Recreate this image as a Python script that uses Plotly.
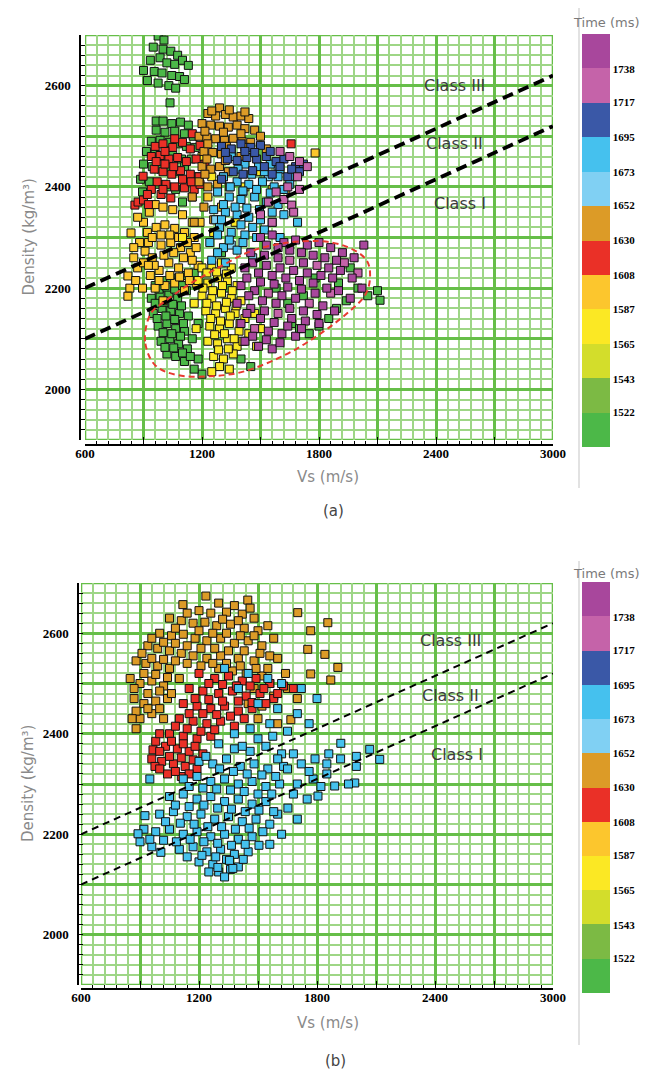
import numpy as np
import plotly.graph_objects as go

W, H = 649, 1069

# ---------------- data ----------------
# colour scale (Time, ms): 12 bands, edges and printed labels
time_edges = [1500, 1522, 1543, 1565, 1587, 1608, 1630, 1652, 1673, 1695, 1717, 1738, 1760]
time_labels = ["1522", "1543", "1565", "1587", "1608", "1630", "1652", "1673", "1695", "1717", "1738"]
band_colors = ['#4cb848', '#7cba44', '#d3dd2b', '#fbe824', '#fcc62d', '#ea3027',
               '#dc9b27', '#80d0f3', '#45c1ee', '#3a58a7', '#c563a9', '#a8479c']

x_ticks = [600, 900, 1200, 1500, 1800, 2100, 2400, 2700, 3000]
x_tick_text = ["600", "", "1200", "", "1800", "", "2400", "", "3000"]
y_ticks = [1900, 2000, 2100, 2200, 2300, 2400, 2500, 2600, 2700]
y_tick_text = ["", "2000", "", "2200", "", "2400", "", "2600", ""]

# AVO class boundaries (Vs, density)
boundary_vs = [600, 3000]
class_iii_ii_rho = [2200, 2620]
class_ii_i_rho = [2100, 2520]
class_names = ["Class III", "Class II", "Class I"]

# ---- panel (a): (Vs, density) samples per time band ----
a_green_top = [(975, 2698), (1005, 2690), (950, 2676), (1000, 2672), (1040, 2668), (1075, 2660), (935, 2650),
               (985, 2655), (1020, 2645), (1060, 2642), (1100, 2650), (1130, 2640), (900, 2630), (955, 2628),
               (995, 2625), (1045, 2620), (1085, 2618), (920, 2610), (975, 2605), (1030, 2600), (1065, 2595),
               (1110, 2612), (1036, 2566), (965, 2530)]
a_green_upper = [(1000, 2530), (1045, 2525), (1090, 2528), (1130, 2522), (965, 2512), (1010, 2508), (1060, 2510),
                 (1110, 2505), (1155, 2500), (940, 2490), (985, 2492), (1030, 2488), (1075, 2485), (1120, 2480),
                 (1165, 2478), (915, 2470), (960, 2465), (1005, 2460), (1050, 2462), (1095, 2455), (900, 2445),
                 (945, 2440), (990, 2435), (1040, 2438), (1080, 2430), (885, 2415), (930, 2410), (975, 2405),
                 (1020, 2400), (1065, 2395), (895, 2390), (1110, 2440), (1145, 2455), (1170, 2420), (1150, 2380),
                 (1100, 2370)]
a_green_lower = [(960, 2205), (1000, 2215), (1040, 2220), (1080, 2210), (1120, 2225), (1160, 2230), (940, 2180),
                 (985, 2185), (1030, 2190), (1075, 2180), (1120, 2195), (950, 2150), (995, 2160), (1040, 2155),
                 (1085, 2150), (1130, 2145), (975, 2125), (1020, 2130), (1065, 2120), (1110, 2115), (1150, 2100),
                 (990, 2095), (1035, 2100), (1080, 2090), (1125, 2080), (1020, 2070), (1065, 2065), (1110, 2055),
                 (1180, 2060), (1200, 2030), (1160, 2040), (1300, 2270), (1330, 2200), (1180, 2130), (1400, 2060),
                 (1450, 2045), (1660, 2130), (1700, 2120), (1750, 2110), (1800, 2125), (1850, 2140), (1890, 2160),
                 (1940, 2175), (2000, 2200), (2050, 2185), (2100, 2195), (2113, 2176), (1960, 2240), (1900, 2210),
                 (1780, 2220), (1720, 2185), (1640, 2170), (1580, 2200), (980, 2198), (1020, 2202), (1060, 2198),
                 (1100, 2205), (960, 2170), (1005, 2172), (1050, 2168), (1095, 2165), (970, 2140), (1015, 2145),
                 (1060, 2138), (1105, 2130), (1000, 2112), (1045, 2110), (1090, 2105), (1010, 2083), (1055, 2082),
                 (1100, 2072), (1140, 2065)]
a_golden = [(836, 2309), (820, 2224), (830, 2200), (820, 2184), (850, 2260), (870, 2240), (880, 2290), (908, 2273),
            (900, 2330), (930, 2350), (960, 2365), (1000, 2360), (1050, 2355), (1100, 2345), (920, 2310), (965, 2320),
            (1010, 2325), (1060, 2318), (1110, 2310), (1160, 2300), (900, 2250), (945, 2260), (990, 2285), (1040, 2290),
            (1090, 2280), (1140, 2270), (935, 2225), (980, 2235), (1030, 2250), (1080, 2240), (1130, 2230), (1180, 2245),
            (960, 2200), (1010, 2205), (1060, 2210), (1110, 2195), (1170, 2210), (1000, 2175), (870, 2340), (1190, 2330),
            (1230, 2380), (1300, 2360), (1340, 2400), (1780, 2467), (1630, 2395), (850, 2280), (860, 2215), (895, 2200),
            (925, 2290), (945, 2300), (990, 2305), (1035, 2305), (1080, 2300), (1125, 2290), (1170, 2280), (955, 2245),
            (1005, 2265), (1055, 2270), (1105, 2260), (1150, 2255), (925, 2245), (980, 2215), (1035, 2225),
            (1085, 2222), (1135, 2215)]
a_yellow = [(1200, 2240), (1250, 2245), (1300, 2250), (1350, 2240), (1180, 2215), (1230, 2210), (1280, 2220),
            (1330, 2215), (1380, 2205), (1200, 2185), (1250, 2180), (1300, 2190), (1350, 2180), (1400, 2175),
            (1220, 2155), (1270, 2150), (1320, 2160), (1370, 2150), (1420, 2140), (1240, 2125), (1290, 2120),
            (1340, 2130), (1390, 2115), (1440, 2110), (1230, 2095), (1280, 2090), (1330, 2100), (1380, 2085),
            (1260, 2065), (1310, 2060), (1360, 2070), (1290, 2045), (1340, 2040), (1250, 2035), (1470, 2150),
            (1500, 2120), (1480, 2085), (1160, 2170), (1170, 2120), (1150, 2330), (1260, 2310), (1370, 2330),
            (1420, 2400), (1500, 2430), (1560, 2395), (1250, 2420), (1200, 2460), (1100, 2300), (1225, 2230),
            (1275, 2232), (1325, 2228), (1205, 2200), (1255, 2195), (1305, 2205), (1355, 2195), (1225, 2170),
            (1275, 2165), (1325, 2172), (1375, 2165), (1245, 2140), (1295, 2135), (1345, 2145), (1395, 2130),
            (1265, 2108), (1315, 2110), (1365, 2100), (1410, 2095), (1285, 2078), (1335, 2080)]
a_red = [(960, 2480), (1000, 2485), (1050, 2478), (1100, 2488), (1140, 2475), (1190, 2482), (940, 2460), (985, 2462),
         (1030, 2455), (1075, 2458), (1120, 2450), (1170, 2455), (1215, 2445), (955, 2435), (1000, 2430), (1045, 2425),
         (1090, 2432), (1140, 2425), (1185, 2420), (970, 2410), (1015, 2405), (1060, 2400), (1110, 2398), (1160, 2395),
         (898, 2421), (856, 2364), (872, 2370), (900, 2374), (925, 2365), (990, 2385), (1040, 2378), (1657, 2485),
         (965, 2450), (1010, 2445), (1055, 2440), (1100, 2415), (1145, 2410), (1190, 2405), (1010, 2470),
         (1060, 2495), (1150, 2505), (1000, 2395), (940, 2395), (920, 2385)]
a_orange = [(1290, 2556), (1230, 2545), (1270, 2540), (1320, 2543), (1360, 2538), (1400, 2540), (1440, 2535),
            (1200, 2525), (1245, 2522), (1290, 2520), (1335, 2518), (1380, 2522), (1420, 2515), (1470, 2512),
            (1185, 2500), (1225, 2498), (1270, 2495), (1315, 2492), (1360, 2496), (1405, 2490), (1450, 2488),
            (1210, 2470), (1255, 2468), (1300, 2465), (1350, 2470), (1400, 2460), (1200, 2440), (1245, 2435),
            (1290, 2440), (1335, 2430), (1185, 2410), (1230, 2400), (1280, 2405), (1150, 2380), (1210, 2360),
            (1260, 2335), (1160, 2330), (1500, 2500), (1530, 2475), (1250, 2550), (1340, 2552), (1420, 2548),
            (1215, 2510), (1310, 2508), (1400, 2505), (1230, 2485), (1325, 2480), (1420, 2478), (1225, 2455),
            (1320, 2452), (1215, 2425), (1310, 2420)]
a_sky = [(1270, 2335), (1410, 2390), (1460, 2260), (1540, 2420), (1350, 2285), (1590, 2440)]
a_cyan = [(1350, 2460), (1420, 2445), (1490, 2440), (1550, 2445), (1600, 2435), (1660, 2420), (1310, 2420),
          (1380, 2410), (1440, 2405), (1510, 2410), (1570, 2400), (1620, 2395), (1280, 2390), (1340, 2380),
          (1400, 2375), (1470, 2380), (1530, 2370), (1590, 2365), (1260, 2355), (1320, 2350), (1380, 2345),
          (1440, 2340), (1500, 2335), (1560, 2330), (1620, 2345), (1290, 2320), (1350, 2310), (1420, 2305),
          (1480, 2300), (1240, 2290), (1310, 2280), (1380, 2275), (1250, 2255), (1320, 2250), (1690, 2330),
          (1600, 2300), (1385, 2435), (1455, 2425), (1520, 2430), (1590, 2420), (1650, 2405), (1345, 2400),
          (1410, 2392), (1480, 2395), (1550, 2388), (1310, 2365), (1370, 2360), (1430, 2358), (1495, 2355),
          (1560, 2350), (1300, 2335), (1400, 2325), (1460, 2320), (1520, 2315), (1280, 2305), (1340, 2295),
          (1410, 2290), (1280, 2270)]
a_blue = [(1300, 2480), (1350, 2475), (1400, 2485), (1450, 2478), (1500, 2482), (1330, 2455), (1380, 2452),
          (1430, 2458), (1480, 2455), (1530, 2460), (1580, 2450), (1620, 2455), (1680, 2440), (1720, 2445),
          (1360, 2430), (1410, 2425), (1460, 2432), (1560, 2425), (1640, 2420), (1700, 2430), (1300, 2415),
          (1320, 2468), (1420, 2470), (1470, 2468), (1550, 2470), (1600, 2440), (1660, 2435), (1520, 2440)]
a_pink = [(1600, 2470), (1650, 2460), (1700, 2450), (1740, 2440), (1690, 2420), (1640, 2400), (1700, 2395),
          (1580, 2390), (1540, 2370), (1620, 2375), (1660, 2364), (1670, 2350), (1500, 2345), (1560, 2330),
          (1650, 2255), (1790, 2245), (1540, 2190), (1750, 2170), (1590, 2150), (1470, 2120), (1930, 2250),
          (2000, 2230), (1860, 2190)]
a_purple = [(1500, 2300), (1560, 2305), (1620, 2290), (1680, 2295), (1740, 2285), (1800, 2290), (1860, 2280),
            (1920, 2270), (1980, 2260), (2030, 2285), (1450, 2270), (1520, 2265), (1590, 2260), (1720, 2250),
            (1850, 2240), (1910, 2235), (1970, 2220), (2020, 2200), (1420, 2240), (1490, 2230), (1560, 2225),
            (1630, 2220), (1700, 2215), (1770, 2210), (1840, 2200), (1900, 2195), (1960, 2180), (1400, 2205),
            (1470, 2195), (1610, 2185), (1680, 2180), (1820, 2165), (1880, 2155), (1380, 2170), (1450, 2160),
            (1520, 2155), (1660, 2140), (1730, 2135), (1800, 2130), (1400, 2130), (1540, 2115), (1610, 2110),
            (1680, 2105), (1420, 2095), (1490, 2085), (1560, 2080), (1530, 2285), (1590, 2280), (1650, 2275),
            (1710, 2270), (1770, 2265), (1830, 2260), (1890, 2255), (1460, 2250), (1530, 2245), (1600, 2240),
            (1670, 2235), (1740, 2230), (1810, 2225), (1870, 2220), (1430, 2220), (1500, 2212), (1570, 2208),
            (1640, 2202), (1710, 2198), (1780, 2190), (1440, 2185), (1510, 2175), (1580, 2170), (1650, 2160),
            (1720, 2155), (1790, 2148), (1430, 2150), (1500, 2140), (1570, 2132), (1640, 2125), (1710, 2120),
            (1460, 2105), (1530, 2098), (1600, 2092)]

# ---- panel (b) ----
b_orange = [(1235, 2674), (1448, 2666), (1118, 2657), (1300, 2660), (1380, 2655), (1200, 2645), (1260, 2640),
            (1340, 2642), (1420, 2638), (1480, 2630), (1050, 2630), (1110, 2625), (1170, 2620), (1230, 2622),
            (1290, 2615), (1360, 2618), (1430, 2610), (1500, 2605), (1550, 2615), (1000, 2600), (1060, 2595),
            (1120, 2598), (1180, 2590), (1240, 2585), (1310, 2590), (1380, 2580), (1450, 2585), (1520, 2575),
            (1580, 2590), (940, 2575), (990, 2570), (1050, 2565), (1110, 2560), (1170, 2555), (1240, 2550),
            (1310, 2555), (1400, 2550), (1480, 2545), (1560, 2555), (880, 2545), (930, 2540), (990, 2535),
            (1050, 2530), (1300, 2530), (1370, 2525), (1440, 2520), (1520, 2515), (850, 2510), (900, 2500),
            (960, 2505), (1020, 2495), (1400, 2495), (1480, 2490), (1560, 2500), (870, 2470), (920, 2460),
            (980, 2465), (1040, 2470), (1450, 2460), (1520, 2455), (900, 2430), (960, 2440), (1020, 2430),
            (880, 2410), (1500, 2430), (1600, 2420), (1702, 2641), (1855, 2621), (1768, 2605), (1753, 2568),
            (1840, 2558), (1906, 2532), (1768, 2519), (1870, 2507), (1667, 2428), (1700, 2470), (1640, 2520),
            (1140, 2640), (1320, 2628), (1400, 2625), (1460, 2650), (1080, 2610), (1200, 2605), (1270, 2600),
            (1340, 2600), (1410, 2595), (1480, 2595), (960, 2590), (1020, 2582), (1080, 2580), (1140, 2575),
            (1210, 2570), (1280, 2570), (1350, 2565), (1430, 2565), (1510, 2560), (910, 2560), (960, 2550),
            (1020, 2548), (1080, 2545), (1140, 2540), (1210, 2535), (1270, 2540), (1340, 2540), (1410, 2535),
            (1490, 2530), (920, 2520), (980, 2518), (1040, 2512), (1100, 2510), (870, 2490), (940, 2480),
            (1000, 2485), (1060, 2480), (880, 2445), (940, 2450), (1000, 2450), (860, 2430), (1550, 2530),
            (1600, 2550), (1580, 2475), (1650, 2490)]
b_red = [(1200, 2520), (1280, 2510), (1350, 2515), (1420, 2505), (1490, 2510), (1560, 2500), (1630, 2495),
         (1680, 2490), (1150, 2490), (1220, 2485), (1300, 2480), (1370, 2485), (1440, 2475), (1510, 2480),
         (1580, 2470), (1120, 2460), (1190, 2455), (1260, 2450), (1330, 2455), (1400, 2445), (1470, 2450),
         (1100, 2430), (1170, 2425), (1240, 2420), (1310, 2425), (1380, 2415), (1050, 2400), (1120, 2395),
         (1190, 2390), (1260, 2395), (980, 2385), (1030, 2375), (1090, 2370), (1150, 2365), (1220, 2360),
         (960, 2350), (1010, 2345), (1070, 2340), (1130, 2335), (1190, 2330), (1040, 2320), (1110, 2315),
         (976, 2335), (966, 2368), (1250, 2500), (1320, 2498), (1390, 2495), (1460, 2495), (1530, 2490),
         (1600, 2480), (1180, 2470), (1250, 2468), (1320, 2465), (1400, 2465), (1470, 2462), (1540, 2460),
         (1150, 2440), (1220, 2440), (1290, 2438), (1360, 2435), (1430, 2430), (1080, 2415), (1140, 2410),
         (1210, 2405), (1280, 2408), (1000, 2400), (1060, 2385), (1120, 2380), (1180, 2375), (1000, 2365),
         (1050, 2355), (1110, 2352), (1170, 2348), (1000, 2330), (1080, 2325), (1150, 2320)]
b_cyan = [(1330, 2530), (1450, 2520), (1550, 2510), (1620, 2500), (1720, 2490), (1800, 2470), (1400, 2490),
          (1500, 2460), (1600, 2450), (1700, 2440), (1650, 2405), (1560, 2420), (1460, 2410), (1380, 2400),
          (1760, 2420), (1300, 2380), (1380, 2370), (1460, 2365), (1540, 2375), (1620, 2360), (1200, 2345),
          (1270, 2340), (1340, 2350), (1410, 2335), (1480, 2340), (1550, 2330), (1630, 2335), (1120, 2310),
          (1190, 2315), (1260, 2305), (1330, 2310), (1400, 2300), (1470, 2305), (1540, 2295), (1610, 2300),
          (1050, 2275), (1120, 2280), (1190, 2270), (1260, 2275), (1330, 2265), (1400, 2270), (1470, 2260),
          (1540, 2265), (1000, 2240), (1070, 2245), (1140, 2235), (1210, 2240), (1280, 2230), (1350, 2235),
          (1420, 2225), (1490, 2230), (1560, 2220), (920, 2210), (980, 2205), (1050, 2210), (1120, 2200),
          (1190, 2205), (1260, 2195), (1330, 2200), (1400, 2190), (1470, 2195), (900, 2185), (960, 2175),
          (1100, 2170), (1170, 2175), (1240, 2165), (1310, 2170), (1380, 2160), (1450, 2165), (1200, 2145),
          (1270, 2140), (1340, 2150), (1400, 2135), (1300, 2125), (1360, 2130), (890, 2201), (925, 2237),
          (1006, 2164), (1296, 2134), (1372, 2132), (950, 2310), (1650, 2330), (1720, 2340), (1790, 2350),
          (1921, 2381), (2068, 2369), (2119, 2349), (2000, 2355), (1860, 2360), (1700, 2300), (1780, 2310),
          (1850, 2320), (1992, 2302), (1890, 2296), (1750, 2270), (1805, 2276), (1652, 2252), (1600, 2240),
          (1700, 2230), (1960, 2300), (1560, 2180), (1620, 2200), (1150, 2295), (1220, 2292), (1290, 2290),
          (1360, 2288), (1430, 2285), (1500, 2280), (1570, 2280), (1080, 2258), (1150, 2255), (1225, 2258),
          (1295, 2252), (1365, 2250), (1435, 2245), (1505, 2248), (1580, 2245), (1030, 2225), (1105, 2222),
          (1175, 2220), (1245, 2215), (1315, 2215), (1385, 2210), (1455, 2212), (1525, 2205), (950, 2190),
          (1020, 2188), (1085, 2185), (1155, 2190), (1225, 2185), (1295, 2182), (1365, 2178), (1435, 2180),
          (1505, 2178), (1140, 2155), (1215, 2158), (1285, 2155), (1355, 2148), (1425, 2150), (1250, 2125),
          (1330, 2115), (1235, 2355), (1305, 2330), (1375, 2325), (1445, 2320), (1520, 2318), (1590, 2315),
          (1600, 2350), (1680, 2360), (1575, 2395), (1420, 2375), (1500, 2390), (1850, 2340), (1920, 2350),
          (2000, 2335), (1760, 2325), (1820, 2295), (1680, 2280)]

# time (ms) assigned to each group
panel_a_groups = [(a_green_top, 1511), (a_green_upper, 1511), (a_green_lower, 1511), (a_golden, 1598),
                  (a_yellow, 1576), (a_red, 1619), (a_orange, 1641), (a_sky, 1662), (a_cyan, 1684),
                  (a_blue, 1706), (a_pink, 1728), (a_purple, 1749)]
panel_b_groups = [(b_orange, 1641), (b_red, 1619), (b_cyan, 1684)]

# ---------------- styling helpers ----------------
MAJOR_GRID = '#66be48'
MINOR_GRID = '#9ed686'
TICK_FONT = dict(family='Liberation Serif', size=13, color='black', weight='bold')
CB_FONT = dict(family='Liberation Serif', size=11, color='black', weight='bold')
SANS = 'DejaVu Sans'

n_bands = len(band_colors)
colorscale = []
for i, c in enumerate(band_colors):
    colorscale.append([i / n_bands, c])
    colorscale.append([(i + 1) / n_bands, c])
cmin, cmax = time_edges[0], time_edges[-1]
tick_positions = time_edges[1:-1]

fig = go.Figure()


def add_points(groups, xa, ya, cax):
    for pts, t in groups:
        vs = [p[0] for p in pts]
        rho = [p[1] for p in pts]
        fig.add_trace(go.Scatter(
            x=vs, y=rho, xaxis=xa, yaxis=ya, mode='markers', showlegend=False, hoverinfo='skip',
            marker=dict(symbol='square', size=8, color=[t] * len(vs), coloraxis=cax,
                        line=dict(color='#111111', width=1))))


def add_boundaries(xa, ya, width, dash):
    for rho in (class_iii_ii_rho, class_ii_i_rho):
        fig.add_trace(go.Scatter(x=boundary_vs, y=rho, xaxis=xa, yaxis=ya, mode='lines',
                                 showlegend=False, hoverinfo='skip',
                                 line=dict(color='black', width=width, dash=dash)))


add_points(panel_a_groups, 'x', 'y', 'coloraxis')
add_boundaries('x', 'y', 3.8, '11px,6px')
add_points(panel_b_groups, 'x2', 'y2', 'coloraxis2')
add_boundaries('x2', 'y2', 2, '7px,5px')


def xaxis_cfg(left, right, line_y):
    return dict(domain=[left / W, right / W], range=[600, 3000], anchor='free', position=1 - line_y / H,
                tickmode='array', tickvals=x_ticks, ticktext=x_tick_text, ticks='inside', ticklen=7,
                tickwidth=1.3, tickcolor='black', tickfont=TICK_FONT, ticklabelstandoff=-3,
                showline=True, linecolor='black', linewidth=1.5,
                showgrid=True, gridcolor=MAJOR_GRID, gridwidth=2.6, zeroline=False,
                minor=dict(tickmode='linear', tick0=600, dtick=60, ticks='inside', ticklen=3,
                           tickcolor='black', tickwidth=1.2, showgrid=True, gridcolor=MINOR_GRID, gridwidth=1.8),
                automargin=False, fixedrange=True)


def yaxis_cfg(top, bottom, line_x):
    return dict(domain=[1 - bottom / H, 1 - top / H], range=[1900, 2700], anchor='free', position=line_x / W,
                tickmode='array', tickvals=y_ticks, ticktext=y_tick_text, ticks='inside', ticklen=4,
                tickwidth=1.3, tickcolor='black', tickfont=TICK_FONT, ticklabelstandoff=6,
                showline=True, linecolor='black', linewidth=1.5,
                showgrid=True, gridcolor=MAJOR_GRID, gridwidth=2.6, zeroline=False,
                minor=dict(tickmode='linear', tick0=1900, dtick=20, ticks='inside', ticklen=4,
                           tickcolor='black', tickwidth=1.2, showgrid=True, gridcolor=MINOR_GRID, gridwidth=1.8),
                automargin=False, fixedrange=True)


def colorbar_cfg(top, bottom):
    return dict(colorscale=colorscale, cmin=cmin, cmax=cmax, showscale=True,
                colorbar=dict(thickness=28, thicknessmode='pixels', len=bottom - top, lenmode='pixels',
                              x=574 / W, xanchor='left', y=1 - top / H, yanchor='top', xpad=0, ypad=0,
                              outlinewidth=0, tickmode='array', tickvals=tick_positions, ticktext=time_labels,
                              ticks='', tickfont=CB_FONT))


# smooth closed outline (Catmull-Rom -> cubic Bezier) for the red dashed ellipse
def closed_smooth_path(pts):
    n = len(pts)
    d = f"M {pts[0][0]},{pts[0][1]}"
    for i in range(n):
        p0, p1, p2, p3 = pts[(i - 1) % n], pts[i], pts[(i + 1) % n], pts[(i + 2) % n]
        c1 = (p1[0] + (p2[0] - p0[0]) / 6, p1[1] + (p2[1] - p0[1]) / 6)
        c2 = (p2[0] - (p3[0] - p1[0]) / 6, p2[1] - (p3[1] - p1[1]) / 6)
        d += f" C {c1[0]:.1f},{c1[1]:.1f} {c2[0]:.1f},{c2[1]:.1f} {p2[0]},{p2[1]}"
    return d + " Z"


ellipse_outline = [(908, 2095), (933, 2147), (1010, 2174), (1128, 2206), (1282, 2240), (1452, 2273), (1626, 2289),
                   (1795, 2293), (1934, 2283), (2036, 2259), (2062, 2226), (2036, 2186), (1934, 2147), (1795, 2107),
                   (1626, 2068), (1421, 2036), (1246, 2026), (1077, 2028), (959, 2048)]

shapes = []
for xr, yr in (('x', 'y'), ('x2', 'y2')):
    shapes.append(dict(type='rect', xref=xr, yref=yr, x0=600, x1=3000, y0=1900, y1=2700,
                       line=dict(color=MAJOR_GRID, width=2.6), layer='below'))
shapes.append(dict(type='path', xref='x', yref='y', path=closed_smooth_path(ellipse_outline),
                   line=dict(color='#e8392f', width=2, dash='6px,4px'), layer='above'))
for y0, y1 in ((0, 480), (553, 1037)):
    shapes.append(dict(type='line', xref='paper', yref='paper', x0=571 / W, x1=571 / W,
                       y0=1 - y0 / H, y1=1 - y1 / H, line=dict(color='#d8d8d8', width=1.5)))

annotations = []
class_font = dict(family=SANS, size=16, color='#3c3c3c')
for (xr, yr), pos in ((('x', 'y'), [(2497, 2601), (2497, 2485), (2523, 2368)]),
                      (('x2', 'y2'), [(2478, 2586), (2478, 2477), (2514, 2359)])):
    for name, (vx, vy) in zip(class_names, pos):
        annotations.append(dict(text=name, xref=xr, yref=yr, x=vx, y=vy, xanchor='center', yanchor='middle',
                                showarrow=False, font=class_font))


def paper_text(txt, cx, cy, font, angle=0):
    annotations.append(dict(text=txt, xref='paper', yref='paper', x=cx / W, y=1 - cy / H,
                            xanchor='center', yanchor='middle', textangle=angle,
                            showarrow=False, font=font))


gray_title = dict(family=SANS, size=15, color='#8a8a8a')
for cy in (15, 565):
    paper_text('Time (ms)', 598, cy, dict(family=SANS, size=13, color='#7a7a7a'))
for cy in (469, 1015):
    paper_text('Vs (m/s)', 320, cy, gray_title)
for cy in (229.5, 776):
    paper_text('Density (kg/m³)', 20, cy, gray_title, angle=-90)
paper_text('(a)', 325, 503, dict(family=SANS, size=15, color='#444444'))
paper_text('(b)', 327, 1053, dict(family=SANS, size=15, color='#444444'))

fig.update_layout(
    width=W, height=H, autosize=False,
    margin=dict(l=0, r=0, t=0, b=0),
    paper_bgcolor='white', plot_bgcolor='white',
    xaxis=xaxis_cfg(77, 545, 437), yaxis=yaxis_cfg(27, 432, 72),
    xaxis2=xaxis_cfg(73, 545, 981), yaxis2=yaxis_cfg(575, 977, 70),
    coloraxis=colorbar_cfg(26, 439), coloraxis2=colorbar_cfg(574, 985),
    shapes=shapes, annotations=annotations,
)

fig.write_html("out.html")
